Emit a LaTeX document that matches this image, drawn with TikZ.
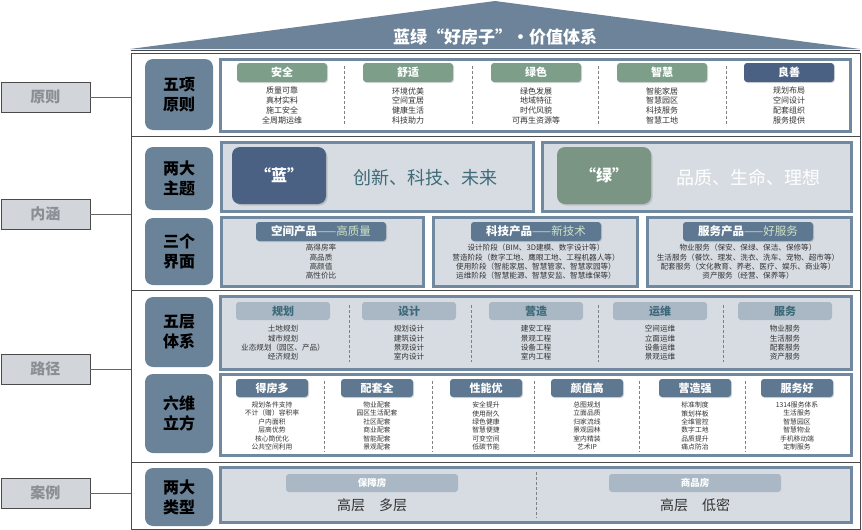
\documentclass[tikz,border=0pt]{standalone}
\usepackage{fontspec}
\setmainfont{Noto Sans CJK SC}
\usetikzlibrary{shadows}
\definecolor{roof}{HTML}{6C8399}
\definecolor{slate}{HTML}{6B8399}
\definecolor{framegray}{HTML}{4A4A4A}
\definecolor{sidefill}{HTML}{D2D6DA}
\definecolor{sidetext}{HTML}{8A8F95}
\definecolor{panelline}{HTML}{7088A0}
\definecolor{panelfill}{HTML}{D6DCE2}
\definecolor{sage}{HTML}{7D9F8A}
\definecolor{sagebox}{HTML}{7A9583}
\definecolor{navy}{HTML}{4B6183}
\definecolor{tabdark}{HTML}{5F7891}
\definecolor{tablight}{HTML}{A9B8C4}
\definecolor{tabteal}{HTML}{3D6A7A}
\definecolor{tabgreen}{HTML}{CDE2C6}
\definecolor{bodytext}{HTML}{333333}
\definecolor{themeteal}{HTML}{3F6B78}
\begin{document}
\begin{tikzpicture}[x=1pt,y=-1pt,
  sbox/.style={draw=framegray, fill=sidefill, text=sidetext, font=\fontsize{15}{18}\selectfont\bfseries, minimum width=89pt, minimum height=30pt, inner sep=0pt},
  rbox/.style={fill=slate, rounded corners=8pt, font=\fontsize{16}{20}\selectfont\bfseries, align=center, minimum width=68pt, inner sep=0pt},
  panel/.style={draw=panelline, line width=3pt, fill=panelfill, inner sep=0pt},
  wpanel/.style={panel, fill=white},
  gtab/.style={fill=sage, rounded corners=3pt, text=white, font=\fontsize{11}{13}\selectfont\bfseries, minimum width=90pt, minimum height=19pt, inner sep=0pt, drop shadow={shadow xshift=1pt, shadow yshift=-1pt, opacity=.3}},
  btab/.style={gtab, fill=navy},
  ptab/.style={gtab, fill=tabdark, minimum width=130pt, font=\fontsize{11.5}{13}\selectfont\bfseries},
  ltab/.style={fill=tablight, rounded corners=3pt, text=tabteal, font=\fontsize{11}{13}\selectfont\bfseries, minimum width=94pt, minimum height=18pt, inner sep=0pt},
  dtab/.style={gtab, fill=tabdark, minimum width=72pt, minimum height=18pt},
  ctab/.style={ltab, text=white, minimum width=172pt, font=\fontsize{9.5}{11}\selectfont\bfseries},
  theme/.style={rounded corners=8pt, text=white, font=\fontsize{16}{18}\selectfont\bfseries, minimum width=94pt, minimum height=57pt, inner sep=0pt, drop shadow={shadow xshift=1.5pt, shadow yshift=-1.5pt, opacity=.3}},
  txt/.style={align=center, inner sep=0pt, text=bodytext, font=\fontsize{8}{9.7}\selectfont},
  txts/.style={txt, font=\fontsize{7.6}{9.4}\selectfont},
  txtx/.style={txt, font=\fontsize{6.8}{8.4}\selectfont},
  sep/.style={draw=gray, dashed, dash pattern=on 3pt off 2pt},
  link/.style={draw=gray!80!black, line width=0.6pt}]
\useasboundingbox (0,0) rectangle (862,530);

% roof and frame
\fill[roof] (130,49) -- (495,1) -- (860,49) -- cycle;
\node[text=white, font=\fontsize{17}{20}\selectfont\bfseries] (title) at (495,37) {蓝绿“好房子”•价值体系};
\draw[framegray, line width=0.6pt] (131,50) -- (860,50);
\draw[framegray, line width=0.8pt] (131,53) rectangle (860,529);
\draw[framegray, line width=0.8pt] (131,136) -- (860,136);
\draw[framegray, line width=0.8pt] (131,290) -- (860,290);
\draw[framegray, line width=0.8pt] (131,462) -- (860,462);

% side labels
\node[sbox] (yz) at (45.5,97) {原则};
\node[sbox] (nh) at (45.5,214) {内涵};
\node[sbox] (lj) at (45.5,369) {路径};
\node[sbox] (al) at (45.5,493) {案例};
\coordinate (yzf) at (131,97);
\coordinate (nhf) at (131,214);
\coordinate (ljf) at (131,369);
\coordinate (alf) at (131,493);
\draw[link] (yz.east) -- (yzf);
\draw[link] (nh.east) -- (nhf);
\draw[link] (lj.east) -- (ljf);
\draw[link] (al.east) -- (alf);

% row labels
\node[rbox, minimum height=71pt] (r1) at (179,94.5) {五项\\原则};
\node[rbox, minimum height=63pt] (r2) at (179,178.5) {两大\\主题};
\node[rbox, minimum height=67pt] (r3) at (179,251.5) {三个\\界面};
\node[rbox, minimum height=70pt] (r4) at (179,332) {五层\\体系};
\node[rbox, minimum height=79pt] (r5) at (179,413.5) {六维\\立方};
\node[rbox, minimum height=58pt] (r6) at (179,497) {两大\\类型};

% five principles
\node[wpanel, minimum width=630pt, minimum height=72pt] (p1) at (535.5,95) {};
\draw[sep] (344,66) -- (344,126);
\draw[sep] (472,66) -- (472,126);
\draw[sep] (598,66) -- (598,126);
\draw[sep] (726,66) -- (726,126);
\node[gtab] (aq) at (282,72.5) {安全};
\node[gtab] (ss) at (408,72.5) {舒适};
\node[gtab] (ls) at (536,72.5) {绿色};
\node[gtab] (zh) at (662,72.5) {智慧};
\node[btab] (lsh) at (789,72.5) {良善};
\node[txt] (aqt) at (282,105.5) {质量可靠\\真材实料\\施工安全\\全周期运维};
\node[txt] (sst) at (408,105.5) {环境优美\\空间宜居\\健康生活\\科技助力};
\node[txt] (lst) at (536,105.5) {绿色发展\\地域特征\\时代风貌\\可再生资源等};
\node[txt] (zht) at (662,105.5) {智能家居\\智慧园区\\科技服务\\智慧工地};
\node[txt] (lsht) at (789,105.5) {规划布局\\空间设计\\配套组织\\服务提供};

% two themes
\node[panel, minimum width=312pt, minimum height=69pt] (p2a) at (377,176.5) {};
\node[panel, minimum width=309pt, minimum height=69pt] (p2b) at (696.5,176.5) {};
\node[theme, fill=navy] (lan) at (279,175.5) {“蓝”};
\node[theme, fill=sagebox] (lv) at (604,175.5) {“绿”};
\node[text=themeteal, font=\fontsize{18}{20}\selectfont] (lant) at (425,178) {创新、科技、未来};
\node[text=white, font=\fontsize{18}{20}\selectfont] (lvt) at (748,178) {品质、生命、理想};

% three interfaces
\node[panel, minimum width=202pt, minimum height=69pt] (p3a) at (322,251.5) {};
\node[panel, minimum width=204pt, minimum height=69pt] (p3b) at (535,251.5) {};
\node[panel, minimum width=204pt, minimum height=69pt] (p3c) at (749,251.5) {};
\node[ptab] (kj) at (321,231.5) {空间产品\textcolor{tabgreen}{\mdseries ——高质量}};
\node[ptab] (kc) at (536,231.5) {科技产品\textcolor{tabgreen}{\mdseries ——新技术}};
\node[ptab] (fw) at (748,231.5) {服务产品\textcolor{tabgreen}{\mdseries ——好服务}};
\node[txts] (kjt) at (321,262) {高得房率\\高品质\\高颜值\\高性价比};
\node[txts] (kct) at (536,262) {设计阶段（BIM、3D建模、数字设计等）\\营造阶段（数字工地、鹰眼工地、工程机器人等）\\使用阶段（智能家居、智慧管家、智慧家园等）\\运维阶段（智慧能源、智慧安监、智慧维保等）};
\node[txts] (fwt) at (748,262) {物业服务（保安、保绿、保洁、保修等）\\生活服务（餐饮、理发、洗衣、洗车、宠物、超市等）\\配套服务（文化教育、养老、医疗、娱乐、商业等）\\资产服务（经营、保养等）};

% five layers
\node[panel, minimum width=631pt, minimum height=73pt] (p4) at (535.5,332.5) {};
\draw[sep] (349,305) -- (349,362);
\draw[sep] (471,305) -- (471,362);
\draw[sep] (598,305) -- (598,362);
\draw[sep] (723,305) -- (723,362);
\node[ltab] (gh) at (283,311) {规划};
\node[ltab] (sj) at (409,311) {设计};
\node[ltab] (yzao) at (536,311) {营造};
\node[ltab] (yw) at (660,311) {运维};
\node[ltab] (fu) at (785,311) {服务};
\node[txts] (ght) at (283,343) {土地规划\\城市规划\\业态规划（园区、产品）\\经济规划};
\node[txts] (sjt) at (409,343) {规划设计\\建筑设计\\景观设计\\室内设计};
\node[txts] (yzaot) at (536,343) {建安工程\\景观工程\\设备工程\\室内工程};
\node[txts] (ywt) at (660,343) {空间运维\\立面运维\\设备运维\\景观运维};
\node[txts] (fut) at (785,343) {物业服务\\生活服务\\配套服务\\资产服务};

% six dimensions
\node[wpanel, minimum width=631pt, minimum height=81pt] (p5) at (535.5,414.5) {};
\draw[sep] (324,381) -- (324,452);
\draw[sep] (432,381) -- (432,452);
\draw[sep] (534,381) -- (534,452);
\draw[sep] (639,381) -- (639,452);
\draw[sep] (745,381) -- (745,452);
\node[dtab] (dfd) at (272,388) {得房多};
\node[dtab] (ptq) at (377,388) {配套全};
\node[dtab] (xny) at (486,388) {性能优};
\node[dtab] (yzg) at (587,388) {颜值高};
\node[dtab] (yzq) at (695,388) {营造强};
\node[dtab] (fwh) at (797,388) {服务好};
\node[txtx] (dfdt) at (272,426) {规划条件支持\\不计（赠）容积率\\户内面积\\层高优势\\核心筒优化\\公共空间利用};
\node[txtx] (ptqt) at (377,426) {物业配套\\园区生活配套\\社区配套\\商业配套\\智能配套\\景观配套};
\node[txtx] (xnyt) at (486,426) {安全提升\\使用耐久\\绿色健康\\智慧便捷\\可变空间\\低碳节能};
\node[txtx] (yzgt) at (587,426) {总图规划\\立面品质\\归家流线\\景观园林\\室内精装\\艺术IP};
\node[txtx] (yzqt) at (695,426) {标准制度\\策划样板\\全维管控\\数字工地\\品质提升\\痛点防治};
\node[txtx] (fwht) at (797,426) {1314服务体系\\生活服务\\智慧园区\\智慧物业\\手机移动端\\定制服务};

% two types
\node[panel, minimum width=631pt, minimum height=55pt] (p6) at (535.5,494.5) {};
\draw[sep] (536,472) -- (536,518);
\node[ctab] (bzf) at (372,483) {保障房};
\node[ctab] (spf) at (695,483) {商品房};
\node[text=bodytext, font=\fontsize{14}{16}\selectfont] (bzft) at (372,505) {高层\quad 多层};
\node[text=bodytext, font=\fontsize{14}{16}\selectfont] (spft) at (695,505) {高层\quad 低密};
\end{tikzpicture}
\end{document}
